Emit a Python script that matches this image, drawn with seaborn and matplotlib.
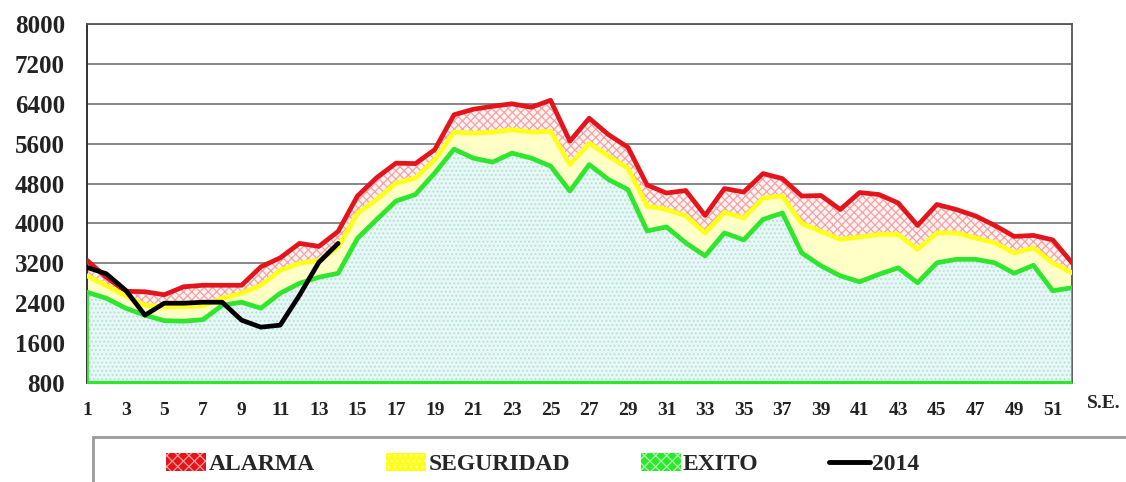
import numpy as np
import pandas as pd
import seaborn as sns
import matplotlib.pyplot as plt
from matplotlib.patches import Patch, Rectangle
from matplotlib.lines import Line2D

# epidemiological weeks
weeks = list(range(1, 53))

alarma = [3260, 2920, 2640, 2630, 2570, 2730, 2760, 2760, 2760, 3130,
          3310, 3600, 3540, 3840, 4550, 4920, 5210, 5200, 5480, 6180,
          6290, 6350, 6400, 6330, 6470, 5650, 6110, 5780, 5530, 4770,
          4610, 4660, 4160, 4700, 4630, 5000, 4900, 4550, 4560, 4280,
          4620, 4580, 4410, 3960, 4380, 4280, 4150, 3960, 3740, 3760,
          3670, 3210]

seguridad = [2950, 2750, 2550, 2360, 2330, 2330, 2350, 2500, 2600, 2760,
             3060, 3200, 3260, 3520, 4200, 4480, 4810, 4910, 5280, 5830,
             5810, 5830, 5880, 5830, 5850, 5180, 5610, 5350, 5110, 4350,
             4280, 4150, 3810, 4220, 4110, 4510, 4550, 4000, 3840, 3680,
             3730, 3780, 3780, 3480, 3810, 3810, 3710, 3610, 3410, 3510,
             3210, 3010]

exito = [2620, 2500, 2300, 2160, 2050, 2040, 2070, 2360, 2420, 2300,
         2600, 2800, 2920, 3000, 3700, 4080, 4450, 4580, 5010, 5490,
         5310, 5230, 5410, 5310, 5150, 4650, 5180, 4880, 4680, 3850,
         3930, 3610, 3350, 3810, 3670, 4080, 4210, 3410, 3150, 2950,
         2830, 2980, 3110, 2810, 3210, 3280, 3280, 3210, 3000, 3160,
         2650, 2710]

weeks_2014 = list(range(1, 15))
casos_2014 = [3120, 2990, 2660, 2160, 2400, 2400, 2420, 2420, 2060, 1920,
              1960, 2560, 3220, 3600]

y_ticks = list(range(800, 8001, 800))

sns.set_style('white')
plt.rcParams['font.family'] = ['Liberation Serif', 'DejaVu Serif']
plt.rcParams['font.weight'] = 'bold'
plt.rcParams['hatch.linewidth'] = 0.9

RED = '#e3141b'
YELLOW = '#ffff1a'
GREEN = '#2de62d'

df = pd.DataFrame({'week': weeks, 'alarma': alarma,
                   'seguridad': seguridad, 'exito': exito})
df14 = pd.DataFrame({'week': weeks_2014, 'casos': casos_2014})

fig = plt.figure(figsize=(11.26, 4.82), dpi=100)
ax = fig.add_axes([0.0773, 0.2054, 0.8748, 0.7448])

ymin = y_ticks[0]
# filled bands
ax.fill_between(df.week, ymin, df.exito, facecolor='#e8f8f6',
                edgecolor='#b5e3d6', hatch='....', linewidth=0, zorder=1)
ax.fill_between(df.week, df.exito, df.seguridad, facecolor='#ffffc6',
                linewidth=0, zorder=1)
ax.fill_between(df.week, df.seguridad, df.alarma, facecolor='#fff2f2',
                edgecolor='#f3a3a3', hatch='xxxx', linewidth=0, zorder=1)

sns.lineplot(data=df, x='week', y='alarma', color=RED, linewidth=3.4, ax=ax, zorder=3)
sns.lineplot(data=df, x='week', y='seguridad', color=YELLOW, linewidth=3.4, ax=ax, zorder=3)
sns.lineplot(data=df, x='week', y='exito', color=GREEN, linewidth=3.4, ax=ax, zorder=4)
ax.vlines([weeks[0], weeks[-1]], ymin, [exito[0], exito[-1]], color=GREEN,
          linewidth=2, zorder=4)
ax.hlines(ymin, weeks[0], weeks[-1], color=GREEN, linewidth=3, zorder=4)
sns.lineplot(data=df14, x='week', y='casos', color='black', linewidth=3.4, ax=ax, zorder=5)

ax.set_xlim(weeks[0], weeks[-1])
ax.set_ylim(y_ticks[0], y_ticks[-1])
ax.set_yticks(y_ticks)
ax.set_yticklabels([str(v) for v in y_ticks], fontsize=18, fontweight='bold')
ax.set_xticks(weeks)
ax.set_xticklabels([str(w) if w % 2 == 1 else '' for w in weeks],
                   fontsize=14, fontweight='bold')
ax.tick_params(axis='y', direction='out', length=6, width=1.2, pad=10, colors='#222222')
ax.tick_params(axis='x', direction='out', length=4, width=1, pad=10, colors='#222222')
ax.set_xlabel('')
ax.set_ylabel('')
ax.grid(axis='y', color='#666666', linewidth=1.1, zorder=0)
ax.set_axisbelow(True)
for side in ['left', 'top', 'right']:
    ax.spines[side].set_visible(True)
    ax.spines[side].set_color('#555555')
    ax.spines[side].set_linewidth(1.3)
ax.spines['left'].set_color('#222222')
ax.spines['bottom'].set_color(GREEN)

fig.text(1087 / 1126, 0.162, 'S.E.', fontsize=14, fontweight='bold', va='center')

# legend box below the plot
fig.patches.append(Rectangle((93 / 1126, -0.1), 1.2, 0.1 + (482 - 437) / 482,
                             transform=fig.transFigure, facecolor='white',
                             edgecolor='#9a9a9a', linewidth=2))

handles = [Patch(facecolor=RED, edgecolor='#ff9a9a', hatch='xxx', linewidth=0),
           Patch(facecolor=YELLOW, edgecolor='#ffffaa', hatch='...', linewidth=0),
           Patch(facecolor=GREEN, edgecolor='#aaffaa', hatch='xxx', linewidth=0),
           Line2D([], [], color='black', linewidth=3.5)]
labels = ['ALARMA', 'SEGURIDAD', 'EXITO', '2014']
fig.legend(handles, labels, loc='center', bbox_to_anchor=(0.482, 0.037),
           ncol=4, frameon=False, handlelength=1.7,
           handleheight=0.8, handletextpad=0.1, columnspacing=3.0,
           prop={'weight': 'bold', 'size': 17})

fig.savefig('out.png', dpi=100)
